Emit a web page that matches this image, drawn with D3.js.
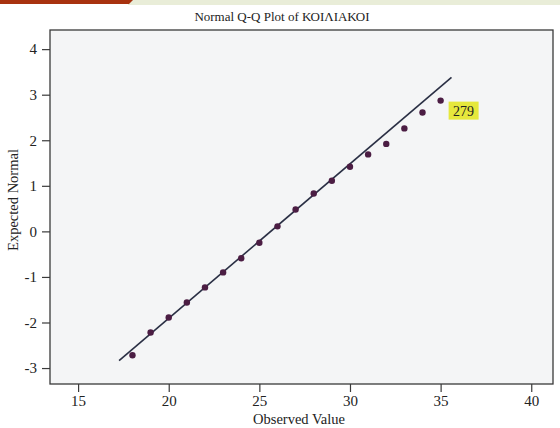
<!DOCTYPE html>
<html>
<head>
<meta charset="utf-8">
<script src="https://cdn.jsdelivr.net/npm/d3@7"></script>
<style>
  body { margin: 0; background: #fff; }
  svg { display: block; }
  text { font-family: "Liberation Serif", serif; fill: #222; }
</style>
</head>
<body>
<svg></svg>
<script>
// observed values and their expected normal quantiles
var observed = [18, 19, 20, 21, 22, 23, 24, 25, 26, 27, 28, 29, 30, 31, 32, 33, 34, 35];
var expected = [-2.72, -2.22, -1.89, -1.56, -1.23, -0.90, -0.59, -0.25, 0.11, 0.48,
                0.83, 1.11, 1.42, 1.69, 1.92, 2.26, 2.61, 2.87];

// reference line: expected = (x - mean) / sd
var lineX = [17.26, 35.6];
var lineMean = 25.63, lineSD = 2.95;

var xTicks = [15, 20, 25, 30, 35, 40];
var yTicks = [-3, -2, -1, 0, 1, 2, 3, 4];

var outlierLabel = "279";
var title = "Normal Q-Q Plot of ΚΟΙΛΙΑΚΟΙ";

var svgWidth = 560,
    svgHeight = 428;

var plotLeft = 50, plotRight = 553, plotTop = 30, plotBottom = 384;

var svg = d3.select("svg")
    .attr("width", svgWidth)
    .attr("height", svgHeight);

// page decoration at the very top
svg.append("rect")
    .attr("x", 128).attr("y", 0)
    .attr("width", svgWidth - 128).attr("height", 5)
    .attr("fill", "#e9edd8");
svg.append("path")
    .attr("d", "M0,0 L133,0 L129,4 L0,4 Z")
    .attr("fill", "#a8320f");

var x = d3.scaleLinear()
    .domain([13.45, 41.2])
    .range([plotLeft, plotRight]);

var y = d3.scaleLinear()
    .domain([-3.35, 4.42])
    .range([plotBottom, plotTop]);

// plot frame
svg.append("rect")
    .attr("x", plotLeft).attr("y", plotTop)
    .attr("width", plotRight - plotLeft).attr("height", plotBottom - plotTop)
    .attr("fill", "#f4f5f6")
    .attr("stroke", "#3a3a3a")
    .attr("stroke-width", 1.3);

// plain hyphen for negatives, like the original
var plain = function (d) { return String(d); };

var xAxis = svg.append("g")
    .attr("transform", "translate(0," + plotBottom + ")")
    .call(d3.axisBottom(x).tickValues(xTicks).tickFormat(plain).tickSize(8).tickPadding(3));

var yAxis = svg.append("g")
    .attr("transform", "translate(" + plotLeft + ",0)")
    .call(d3.axisLeft(y).tickValues(yTicks).tickFormat(plain).tickSize(8).tickPadding(5));

[xAxis, yAxis].forEach(function (g) {
    g.select(".domain").remove();
    g.selectAll("line").attr("stroke", "#3a3a3a").attr("stroke-width", 1.2);
    g.selectAll("text")
        .attr("font-family", "Liberation Serif, serif")
        .attr("font-size", 15)
        .attr("fill", "#222");
});

// reference line
svg.append("line")
    .attr("x1", x(lineX[0]))
    .attr("y1", y((lineX[0] - lineMean) / lineSD))
    .attr("x2", x(lineX[1]))
    .attr("y2", y((lineX[1] - lineMean) / lineSD))
    .attr("stroke", "#2a2f44")
    .attr("stroke-width", 1.6);

// points
svg.selectAll("circle")
    .data(observed)
    .enter()
    .append("circle")
    .attr("cx", function (d) { return x(d); })
    .attr("cy", function (d, i) { return y(expected[i]); })
    .attr("r", 3.2)
    .attr("fill", "#4b1d43");

// label for the last point
var last = observed.length - 1;
var lx = x(observed[last]) + 8,
    ly = y(expected[last]);
svg.append("rect")
    .attr("x", lx).attr("y", ly + 1)
    .attr("width", 30).attr("height", 18)
    .attr("fill", "#e6e83c");
svg.append("text")
    .attr("x", lx + 15).attr("y", ly + 15)
    .attr("text-anchor", "middle")
    .attr("font-size", 14)
    .text(outlierLabel);

// title and axis labels
svg.append("text")
    .attr("x", 282).attr("y", 21)
    .attr("text-anchor", "middle")
    .attr("font-size", 13)
    .text(title);

svg.append("text")
    .attr("x", 299).attr("y", 424)
    .attr("text-anchor", "middle")
    .attr("font-size", 14.5)
    .text("Observed Value");

svg.append("text")
    .attr("transform", "translate(18,200) rotate(-90)")
    .attr("text-anchor", "middle")
    .attr("font-size", 14.5)
    .text("Expected Normal");
</script>
</body>
</html>
